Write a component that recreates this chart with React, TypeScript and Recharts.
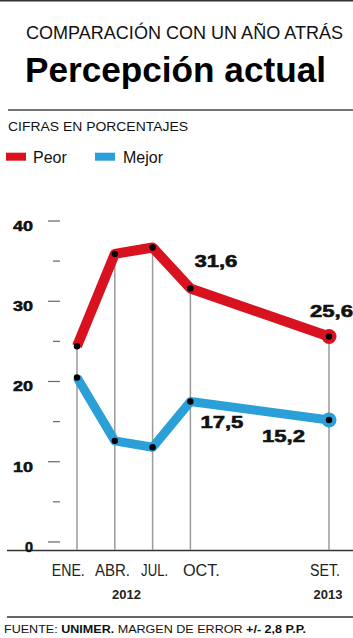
import React from 'react';
import { LineChart, Line, XAxis, YAxis, ReferenceLine, LabelList } from 'recharts';

const months = [0, 3, 6, 9, 20];
const monthLabels = ['ENE.', 'ABR.', 'JUL.', 'OCT.', 'SET.'];
const yearTicks = [4, 20];
const yearLabels = ['2012', '2013'];
const peor = [24.4, 35.9, 36.7, 31.6, 25.6];
const mejor = [20.5, 12.6, 11.8, 17.5, 15.2];
const peorLabels = ['', '', '', '31,6', '25,6'];
const mejorLabels = ['', '', '', '17,5', '15,2'];
const yTicks = [0, 5, 10, 15, 20, 25, 30, 35, 40];

const data = months.map((m, i) => ({ m, peor: peor[i], mejor: mejor[i] }));

const RED = '#d8121f';
const BLUE = '#2a9fd8';
const FONT = '"Liberation Sans", Arial, Helvetica, sans-serif';

const monthDx = [-8.7, -2.3, 2, 11, -4];
const monthW = [33, 35, 27, 37, 30];

const XTick = (props: any) => {
  const { x, payload } = props;
  const v = payload.value;
  const mi = months.indexOf(v);
  const yi = yearTicks.indexOf(v);
  return (
    <g>
      {mi >= 0 && (
        <text
          x={x + monthDx[mi]}
          y={575.7}
          textAnchor="middle"
          fontSize={16}
          fontFamily={FONT}
          fill="#222"
          textLength={monthW[mi]}
          lengthAdjust="spacingAndGlyphs"
        >
          {monthLabels[mi]}
        </text>
      )}
      {yi >= 0 && (
        <text x={x - 1} y={599} textAnchor="middle" fontSize={13} fontWeight="bold" fontFamily={FONT} fill="#222">
          {yearLabels[yi]}
        </text>
      )}
    </g>
  );
};

const YTick = (props: any) => {
  const { y, payload } = props;
  const v = payload.value;
  const major = v % 10 === 0;
  const s = String(v);
  return (
    <g>
      <line x1={major ? 48 : 53} x2={60} y1={y} y2={y} stroke="#666" strokeWidth={1.2} />
      {major && (
        <text
          x={33}
          y={y + 10}
          textAnchor="end"
          fontSize={14}
          fontWeight="bold"
          fontFamily={FONT}
          fill="#111"
          stroke="#111"
          strokeWidth={0.5}
          textLength={s.length * 10 - (s.length === 1 ? 2 : 0)}
          lengthAdjust="spacingAndGlyphs"
        >
          {s}
        </text>
      )}
    </g>
  );
};

const makeDot = (color: string) => (props: any) => {
  const { cx, cy, index } = props;
  const last = index === data.length - 1;
  return (
    <g key={`d-${color}-${index}`}>
      {last && <circle cx={cx} cy={cy} r={7.5} fill={color} />}
      <circle cx={cx} cy={cy} r={3.2} fill="#000" />
    </g>
  );
};

const peorOffsets: Record<number, [number, number]> = { 3: [4, -21.5], 4: [-19, -20] };
const mejorOffsets: Record<number, [number, number]> = { 3: [10, 26], 4: [-67, 22] };

const makeLabel = (labels: string[], offs: Record<number, [number, number]>) => (props: any) => {
  const { x, y, index } = props;
  const t = labels[index];
  if (!t || !offs[index]) return null;
  const [dx, dy] = offs[index];
  return (
    <text
      x={x + dx}
      y={y + dy}
      fontSize={17}
      fontWeight="bold"
      fontFamily={FONT}
      fill="#111"
      stroke="#111"
      strokeWidth={0.6}
      textLength={43}
      lengthAdjust="spacingAndGlyphs"
    >
      {t}
    </text>
  );
};

export default function App() {
  return (
    <div style={{ position: 'absolute', left: 0, top: 0, width: 353, height: 638, background: '#fff' }}>
      <svg width={353} height={638} style={{ position: 'absolute', left: 0, top: 0 }}>
        <line x1={0} x2={353} y1={0.8} y2={0.8} stroke="#333" strokeWidth={1.6} />
        <text x={26} y={39.3} fontSize={18.5} fontFamily={FONT} fill="#111" textLength={317} lengthAdjust="spacingAndGlyphs">
          COMPARACIÓN CON UN AÑO ATRÁS
        </text>
        <text x={25} y={82} fontSize={35} fontWeight="bold" fontFamily={FONT} fill="#000" textLength={301} lengthAdjust="spacingAndGlyphs">
          Percepción actual
        </text>
        <line x1={8} x2={353} y1={110} y2={110} stroke="#444" strokeWidth={1.5} />
        <text x={8} y={130.7} fontSize={12.5} fontFamily={FONT} fill="#111" textLength={180} lengthAdjust="spacingAndGlyphs">
          CIFRAS EN PORCENTAJES
        </text>
        <rect x={6} y={152.7} width={20} height={8} fill={RED} />
        <text x={33} y={162.7} fontSize={16} fontFamily={FONT} fill="#111">Peor</text>
        <rect x={95} y={152.7} width={20} height={8} fill={BLUE} />
        <text x={123} y={162.7} fontSize={16} fontFamily={FONT} fill="#111">Mejor</text>
        <line x1={7} x2={353} y1={550.5} y2={550.5} stroke="#333" strokeWidth={1.5} />
        <line x1={7} x2={353} y1={617} y2={617} stroke="#333" strokeWidth={1.3} />
        <text x={4} y={633} fontSize={11} fontFamily={FONT} fill="#111" textLength={302} lengthAdjust="spacingAndGlyphs">
          <tspan>FUENTE: </tspan>
          <tspan fontWeight="bold">UNIMER.</tspan>
          <tspan> MARGEN DE ERROR </tspan>
          <tspan fontWeight="bold">+/- 2,8 P.P.</tspan>
        </text>
      </svg>
      <div style={{ position: 'absolute', left: 0, top: 0 }}>
        <LineChart width={353} height={638} data={data} margin={{ top: 221, right: 24, bottom: 0, left: 0 }}>
          <XAxis
            type="number"
            dataKey="m"
            domain={[0, 20]}
            ticks={[...months, ...yearTicks.filter((t) => months.indexOf(t) < 0)].sort((a, b) => a - b)}
            padding={{ left: 17, right: 0 }}
            axisLine={false}
            tickLine={false}
            height={88}
            tick={<XTick />}
            interval={0}
          />
          <YAxis
            type="number"
            domain={[-1, 40]}
            ticks={yTicks}
            width={60}
            axisLine={false}
            tickLine={false}
            tick={<YTick />}
            interval={0}
          />
          {data.map((d, i) => (
            <ReferenceLine
              key={`rl-${i}`}
              segment={[{ x: d.m, y: -1 }, { x: d.m, y: d.peor }]}
              stroke="#9a9a9a"
              strokeWidth={1.5}
            />
          ))}
          <Line
            type="linear"
            dataKey="peor"
            stroke={RED}
            strokeWidth={10}
            strokeLinejoin="round"
            dot={makeDot(RED)}
            activeDot={false}
            isAnimationActive={false}
          >
            <LabelList dataKey="peor" content={makeLabel(peorLabels, peorOffsets)} />
          </Line>
          <Line
            type="linear"
            dataKey="mejor"
            stroke={BLUE}
            strokeWidth={9}
            strokeLinejoin="round"
            dot={makeDot(BLUE)}
            activeDot={false}
            isAnimationActive={false}
          >
            <LabelList dataKey="mejor" content={makeLabel(mejorLabels, mejorOffsets)} />
          </Line>
        </LineChart>
      </div>
    </div>
  );
}
